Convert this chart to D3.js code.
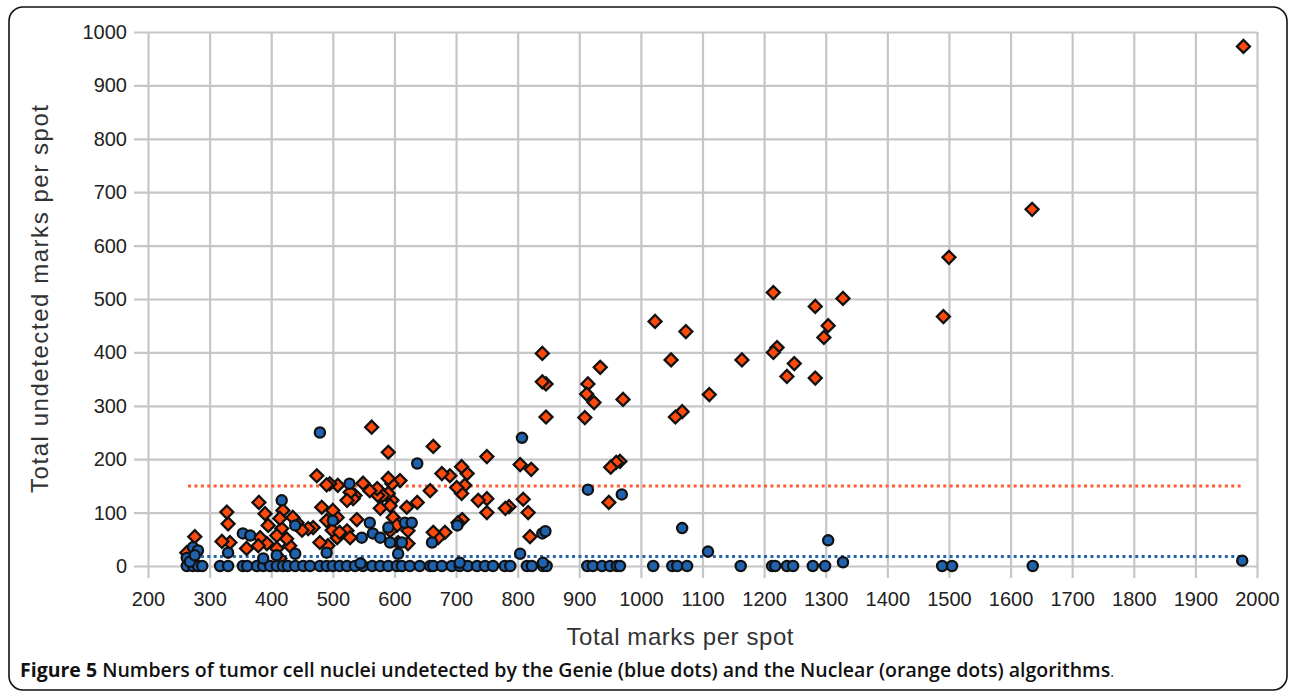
<!DOCTYPE html>
<html lang="en">
<head>
<meta charset="utf-8">
<title>Figure 5</title>
<script src="https://cdnjs.cloudflare.com/ajax/libs/d3/7.8.5/d3.min.js"></script>
<style>
  body { margin: 0; background: #fff; }
</style>
</head>
<body>
<script>
// data
var xTicks = [200,300,400,500,600,700,800,900,1000,1100,1200,1300,1400,1500,1600,1700,1800,1900,2000]
var yTicks = [0,100,200,300,400,500,600,700,800,900,1000]

// Nuclear algorithm (orange diamonds): [total marks, undetected]
var nuclear = [[1978,973],[1635,668],[1500,578],[1491,467],[1328,501],[1304,450],[1297,428],[1283,486],
  [1283,352],[1249,379],[1237,355],[1221,409],[1215,400],[1215,512],[1164,386],[1111,321],[1073,439],
  [1067,289],[1056,279],[1049,386],[1023,458],[971,312],[966,196],[960,194],[951,185],[948,119],[934,372],
  [924,306],[914,341],[912,322],[909,278],[846,341],[840,398],[840,345],[846,279],[822,181],[820,55],
  [817,100],[809,125],[804,190],[786,111],[780,108],[750,205],[750,126],[750,100],[736,123],[718,173],
  [714,151],[710,87],[709,186],[709,136],[703,81],[701,147],[690,169],[682,63],[677,173],[671,53],
  [663,224],[663,63],[658,141],[637,119],[620,110],[609,160],[596,154],[596,123],[593,113],[590,213],
  [590,164],[590,136],[581,132],[577,108],[573,132],[572,145],[563,260],[560,141],[549,155],[536,132],
  [533,126],[528,138],[523,123],[508,151],[507,91],[507,53],[500,104],[499,67],[495,154],[492,38],
  [490,152],[490,85],[482,110],[479,44],[474,169],[468,72],[460,70],[450,67],[442,81],[435,91],[430,38],
  [425,51],[419,104],[417,70],[414,89],[409,57],[395,76],[393,42],[390,98],[382,53],[380,119],[379,38],
  [360,33],[333,44],[330,79],[328,101],[320,46],[276,55],[263,25],[539,87],[523,66],[511,63],[528,53],
  [598,91],[604,76],[593,66],[622,66],[606,44],[622,42],[409,33],[414,14]]

// Genie algorithm (blue dots)
var genie = [[263,0],[273,0],[281,0],[288,0],[317,0],[330,0],[354,0],[361,0],[377,0],[387,0],[398,0],
  [409,0],[419,0],[427,0],[439,0],[452,0],[463,0],[479,0],[490,0],[500,0],[511,0],[523,0],[536,0],
  [549,0],[564,0],[577,0],[590,0],[604,0],[612,0],[625,0],[641,0],[658,0],[663,0],[677,0],[693,0],
  [706,0],[719,0],[734,0],[747,0],[760,0],[779,0],[788,0],[815,0],[823,0],[841,0],[847,0],[913,0],
  [922,0],[937,0],[950,0],[961,0],[966,0],[1020,0],[1051,0],[1059,0],[1075,0],[1162,0],[1213,0],
  [1218,0],[1237,0],[1247,0],[1279,0],[1299,0],[1489,0],[1505,0],[1636,0],
  [263,15],[268,8],[273,35],[281,29],[276,20],[330,25],[354,61],[366,57],[387,14],[409,20],[417,123],
  [439,76],[439,23],[479,250],[490,25],[500,85],[527,154],[547,53],[560,81],[565,61],[577,53],[590,72],
  [593,44],[606,23],[612,44],[617,81],[628,81],[637,192],[661,44],[702,76],[804,23],[807,240],[840,61],
  [845,65],[914,143],[969,134],[1067,71],[1109,27],[1304,48],[1328,7],[1976,10],[706,6],[841,6],[545,5]]

// mean lines: [value, from, to]
var nuclearMean = [150, 265, 1978]
var genieMean = [18, 265, 1975]

var canvas = d3.select("body").append("svg").attr("width",1290).attr("height",693)

// frame round the figure
canvas.append("rect")
  .attr("x",9).attr("y",7).attr("width",1278).attr("height",683)
  .attr("rx",14).attr("ry",14)
  .attr("fill","none").attr("stroke","#111").attr("stroke-width",1.6)

var margin = {left:148, top:32}
var W = 1109, H = 534

var x = d3.scaleLinear().domain([200,2000]).range([0,W])
var y = d3.scaleLinear().domain([0,1000]).range([H,0])

var plot = canvas.append("g").attr("transform","translate("+margin.left+","+margin.top+")")

// grid + ticks (ticks stick out past the grid)
var yAxis = plot.append("g").attr("transform","translate(-14,0)")
  .call(d3.axisLeft(y).tickValues(yTicks).tickSize(-(W+14)).tickPadding(7).tickFormat(d3.format("d")))
var xAxis = plot.append("g").attr("transform","translate(0,"+(H+12)+")")
  .call(d3.axisBottom(x).tickValues(xTicks).tickSize(-(H+12)).tickPadding(14).tickFormat(d3.format("d")))

canvas.selectAll(".domain").remove()
canvas.selectAll(".tick line").attr("stroke","#c6c6c6").attr("stroke-width",2.2)
canvas.selectAll(".tick text").attr("fill","#222").style("font-size","20px")
  .style("font-family","'Liberation Sans', Arial, sans-serif")

// dotted mean lines
plot.append("line")
  .attr("x1",x(nuclearMean[1])).attr("x2",x(nuclearMean[2]))
  .attr("y1",y(nuclearMean[0])).attr("y2",y(nuclearMean[0]))
  .attr("stroke","#ff5e30").attr("stroke-width",3).attr("stroke-dasharray","3,3.4")
plot.append("line")
  .attr("x1",x(genieMean[1])).attr("x2",x(genieMean[2]))
  .attr("y1",y(genieMean[0])).attr("y2",y(genieMean[0]))
  .attr("stroke","#2a64a8").attr("stroke-width",3).attr("stroke-dasharray","3,3.4")

// orange diamonds
var diamond = d3.symbol().type(d3.symbolSquare).size(84)
plot.append("g").selectAll("path").data(nuclear).enter().append("path")
  .attr("d",diamond)
  .attr("transform",function(d){ return "translate("+x(d[0])+","+y(d[1])+") rotate(45)" })
  .attr("fill","#ff4a0c").attr("stroke","#111").attr("stroke-width",2.3)

// blue dots
plot.append("g").selectAll("circle").data(genie).enter().append("circle")
  .attr("cx",function(d){ return x(d[0]) })
  .attr("cy",function(d){ return y(d[1]) })
  .attr("r",5.1)
  .attr("fill","#1f62ad").attr("stroke","#111").attr("stroke-width",2.3)

// axis titles
canvas.append("text")
  .attr("x",680).attr("y",645)
  .attr("text-anchor","middle")
  .attr("textLength",227).attr("lengthAdjust","spacing")
  .style("font-family","'Liberation Sans', Arial, sans-serif")
  .style("font-size","24px").attr("fill","#333")
  .text("Total marks per spot")

canvas.append("text")
  .attr("transform","translate(48,299) rotate(-90)")
  .attr("text-anchor","middle")
  .attr("textLength",388).attr("lengthAdjust","spacing")
  .style("font-family","'Liberation Sans', Arial, sans-serif")
  .style("font-size","24px").attr("fill","#333")
  .text("Total undetected marks per spot")

// caption
var cap = canvas.append("text")
  .attr("x",20).attr("y",677)
  .style("font-family","'Open Sans', sans-serif")
  .style("font-size","19.5px").attr("fill","#111")
cap.append("tspan").style("font-weight",700).text("Figure 5")
cap.append("tspan").style("font-weight",600)
  .text(" Numbers of tumor cell nuclei undetected by the Genie (blue dots) and the Nuclear (orange dots) algorithms")
cap.append("tspan").style("font-weight",400).style("font-size","14px").text(".")
</script>
</body>
</html>
